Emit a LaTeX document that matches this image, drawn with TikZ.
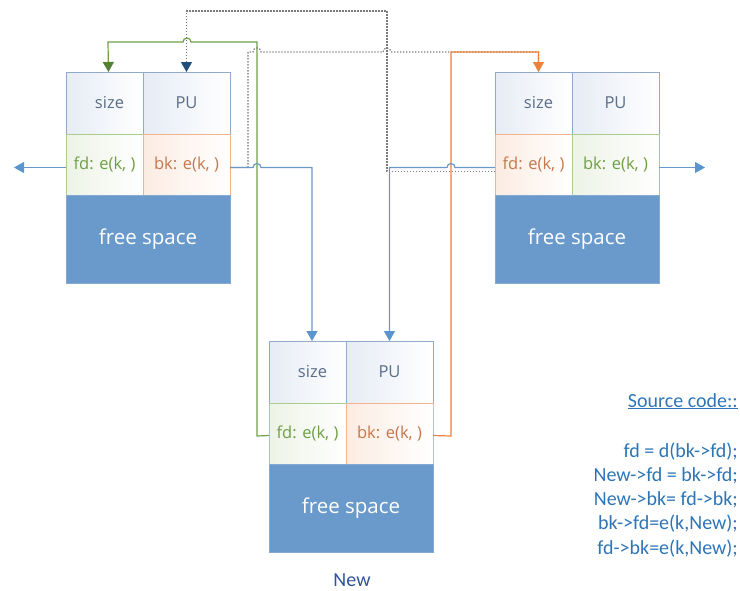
\documentclass[tikz,border=0pt]{standalone}
\usepackage{fontspec}
\setmainfont{Open Sans}
\newfontfamily\codefont{Carlito}
\usetikzlibrary{arrows.meta}

\definecolor{cellline}{HTML}{8FAACB}
\definecolor{cellshade}{HTML}{E6ECF5}
\definecolor{celltext}{HTML}{5A6E88}
\definecolor{grnline}{HTML}{A9CD8E}
\definecolor{grnshade}{HTML}{EDF3E6}
\definecolor{grntext}{HTML}{6F9E45}
\definecolor{orgline}{HTML}{F2B48E}
\definecolor{orgshade}{HTML}{FCECE2}
\definecolor{orgtext}{HTML}{C4774A}
\definecolor{freefill}{HTML}{6A9ACB}
\definecolor{freeedge}{HTML}{86A9D2}
\definecolor{linkblue}{HTML}{6A98C8}
\definecolor{tipblue}{HTML}{5B95D0}
\definecolor{linkgreen}{HTML}{6FA048}
\definecolor{tipgreen}{HTML}{548235}
\definecolor{linkorange}{HTML}{E8823F}
\definecolor{tipnavy}{HTML}{1F4E79}
\definecolor{codeblue}{HTML}{2E75B6}
\definecolor{newblue}{HTML}{2F5597}
\definecolor{dotgray}{HTML}{7A7A7A}

\tikzset{
  basecell/.style={inner sep=0pt, outer sep=0pt, anchor=north west,
    line width=0.9pt, font=\fontsize{16.5}{19}\selectfont},
  topcell/.style={basecell, draw=cellline, text=celltext, minimum height=62pt,
    left color=cellshade, right color=white},
  grncell/.style={basecell, draw=grnline, text=grntext, minimum height=61pt,
    left color=grnshade, right color=white},
  orgcell/.style={basecell, draw=orgline, text=orgtext, minimum height=61pt,
    left color=orgshade, right color=white},
  freecell/.style={basecell, draw=freeedge, fill=freefill, text=white,
    minimum width=164pt, minimum height=88pt, font=\fontsize{20.5}{24}\selectfont},
  link/.style={line width=1.2pt, line join=miter},
  bluelink/.style={link, draw=linkblue},
  greenlink/.style={link, draw=linkgreen},
  orangelink/.style={link, draw=linkorange},
  oldlink/.style={line width=1.3pt, draw=dotgray, dash pattern=on 1.3pt off 1.7pt},
  tip/.style={-{Triangle[width=11pt,length=10pt,fill=#1,color=#1]}},
  codeline/.style={anchor=base east, inner sep=0pt, text=codeblue,
    font=\codefont\fontsize{20}{24}\selectfont}
}

% one heap chunk: header row, fd/bk row, free space
\newcommand\memchunk[5]{%
  \node[topcell, minimum width=77pt] (#1size) at (#2,#3) {\hspace*{10pt}size};
  \node[topcell, minimum width=87pt] (#1pu) at (#1size.north east) {PU};
  \node[#4cell, minimum width=77pt] (#1fd) at (#1size.south west) {fd: e(k, )};
  \node[#5cell, minimum width=87pt] (#1bk) at (#1fd.north east) {bk: e(k, )};
  \node[freecell] (#1free) at (#1fd.south west) {free space};
}

\begin{document}
\begin{tikzpicture}[x=1pt, y=-1pt]
\useasboundingbox (0,0) rectangle (740,590);

\memchunk{L}{66}{72}{grn}{org}
\memchunk{R}{495}{72}{org}{grn}
\memchunk{N}{269}{341}{grn}{org}

\node[text=newblue, font=\codefont\fontsize{20}{24}\selectfont] (newlabel) at (352,580) {New};

% source code
\node[codeline] (codehead) at (738,407) {\underline{Source code::}};
\node[codeline] (code1) at (738,457) {fd = d(bk->fd);};
\node[codeline] (code2) at (738,481) {New->fd = bk->fd;};
\node[codeline] (code3) at (738,505) {New->bk= fd->bk;};
\node[codeline] (code4) at (738,529) {bk->fd=e(k,New);};
\node[codeline] (code5) at (738,554) {fd->bk=e(k,New);};

% free ends of the outer list links
\coordinate (leftend) at (14,167.5);
\coordinate (rightend) at (705,167.5);

% New.fd -> left chunk
\draw[greenlink, tip=tipgreen] ([yshift=-2pt]Nfd.west) -- (257,436) -- (257,42)
  -- (191,42) arc[start angle=0, end angle=-180, radius=4]
  -- (108,42) -- ([xshift=4pt]Lsize.north);

% old links (dotted)
\draw[oldlink] ([yshift=-3pt]Lbk.east) -- (248,167.5) -- (248,52)
  -- (253,52) arc[start angle=180, end angle=360, radius=4]
  -- (383,52) arc[start angle=180, end angle=360, radius=4]
  -- (538.5,52) -- ([xshift=5pt]Rsize.north);
\draw[oldlink, tip=tipnavy] ([yshift=-7pt]Rfd.west) -- (387,171.5) -- (387,11)
  -- (186.5,11) -- (Lpu.north);

% New.bk -> right chunk
\draw[orangelink, tip=linkorange] ([yshift=-2pt]Nbk.east) -- (451,436) -- (451,52)
  -- (538.5,52) -- ([xshift=5pt]Rsize.north);

% left.bk -> New and right.fd -> New
\draw[bluelink, tip=tipblue] ([yshift=-3pt]Lbk.east)
  -- (253,167.5) arc[start angle=180, end angle=360, radius=4]
  -- (312,167.5) -- ([xshift=4.5pt]Nsize.north);
\draw[bluelink, tip=tipblue] ([yshift=-3pt]Rfd.west)
  -- (455,167.5) arc[start angle=0, end angle=-180, radius=4]
  -- (389.5,167.5) -- (Npu.north);

% outer list continues
\draw[bluelink, tip=tipblue] ([yshift=-3pt]Lfd.west) -- (leftend);
\draw[bluelink, tip=tipblue] ([yshift=-3pt]Rbk.east) -- (rightend);
\end{tikzpicture}
\end{document}
